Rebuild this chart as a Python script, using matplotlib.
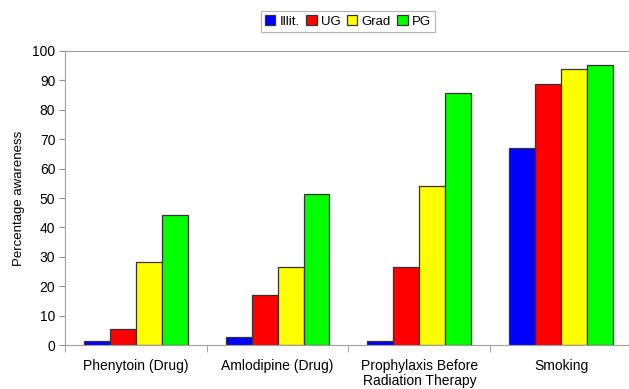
import numpy as np
import matplotlib.pyplot as plt

plt.rcParams['font.family'] = ['Liberation Sans', 'DejaVu Sans']

categories = ["Phenytoin (Drug)", "Amlodipine (Drug)",
              "Prophylaxis Before\nRadiation Therapy", "Smoking"]
groups = ["Illit.", "UG", "Grad", "PG"]
illit = [1.4, 2.6, 1.4, 66.9]
ug = [5.3, 17.0, 26.6, 88.7]
grad = [28.3, 26.6, 54.1, 93.8]
pg = [44.3, 51.3, 85.6, 95.2]
colors = ["#0000ff", "#ff0000", "#ffff00", "#00ff00"]

fig = plt.figure(figsize=(6.29, 3.89), dpi=100)
ax = fig.add_axes([0.1033, 0.1131, 0.9014, 0.7558])

x = np.arange(len(categories))
w = 0.183
for i, (vals, c, name) in enumerate(zip([illit, ug, grad, pg], colors, groups)):
    ax.bar(x + (i - 1.5) * w, vals, w, color=c, edgecolor="#333333",
           linewidth=0.9, label=name)

ax.set_xlim(-0.5, len(categories) - 0.5)
ax.set_ylim(0, 100)
ax.set_yticks(range(0, 101, 10))
ax.set_xticks(x)
ax.set_xticklabels(categories, fontsize=10, linespacing=1.1)
ax.set_xticks(np.arange(-0.5, len(categories), 1), minor=True)
ax.tick_params(axis='x', which='major', length=0, pad=10)
ax.tick_params(axis='x', which='minor', length=5, color="#909090")
ax.tick_params(axis='y', length=4, color="#909090", labelsize=10, pad=3)
ax.set_ylabel("Percentage awareness", fontsize=9.5, labelpad=5)

for side in ['left', 'bottom', 'top']:
    ax.spines[side].set_color("#a0a0a0")
ax.spines['right'].set_visible(False)

leg = fig.legend(loc='center', bbox_to_anchor=(0.553, 0.945), ncol=4,
                 fontsize=9.5, frameon=True, fancybox=False,
                 handlelength=0.8, handleheight=0.8, handletextpad=0.3,
                 columnspacing=0.5, borderpad=0.3, edgecolor="#a0a0a0")
leg.get_frame().set_linewidth(0.8)

fig.savefig("out.png", dpi=100)
